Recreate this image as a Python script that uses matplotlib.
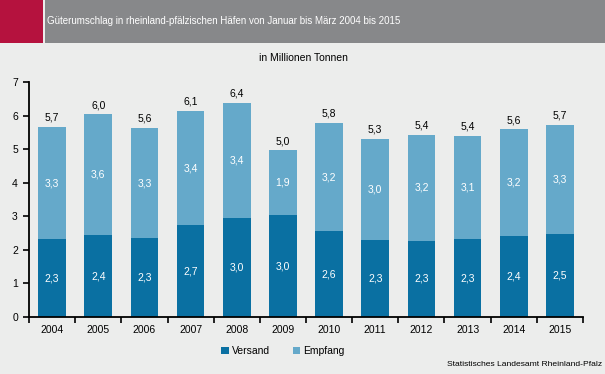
import matplotlib
matplotlib.use("Agg")
import matplotlib.pyplot as plt
from matplotlib.patches import Rectangle

plt.rcParams['font.family'] = ['Liberation Sans', 'DejaVu Sans']

years = ['2004', '2005', '2006', '2007', '2008', '2009', '2010', '2011', '2012', '2013', '2014', '2015']
versand = [2.32, 2.43, 2.34, 2.73, 2.96, 3.03, 2.56, 2.29, 2.27, 2.32, 2.41, 2.46]
empfang = [3.34, 3.61, 3.29, 3.41, 3.42, 1.94, 3.22, 3.02, 3.16, 3.08, 3.18, 3.27]

title = 'Güterumschlag in rheinland-pfälzischen Häfen von Januar bis März 2004 bis 2015'
subtitle = 'in Millionen Tonnen'
source = 'Statistisches Landesamt Rheinland-Pfalz'

c_v = '#0A70A2'
c_e = '#65A9CA'
bg = '#ECEDEC'

def fmt(v):
    return f'{v:.1f}'.replace('.', ',')

W, H = 605, 374
fig = plt.figure(figsize=(W / 100, H / 100), dpi=100, facecolor=bg)

# header
fig.patches.append(Rectangle((0, 1 - 42.5 / H), 43 / W, 42.5 / H, transform=fig.transFigure,
                             facecolor='#B5123E', edgecolor='none', zorder=0))
fig.patches.append(Rectangle((45 / W, 1 - 42.5 / H), 1 - 45 / W, 42.5 / H, transform=fig.transFigure,
                             facecolor='#87888A', edgecolor='none', zorder=0))
fig.text(47 / W, 1 - 21 / H, title, color='white', fontsize=7.0, va='center', ha='left')

ax = fig.add_axes([29 / W, 1 - 317 / H, (583 - 29) / W, (317 - 82) / H])
ax.set_facecolor(bg)
x = list(range(len(years)))
ax.bar(x, versand, width=0.6, color=c_v, label='Versand', zorder=2)
ax.bar(x, empfang, width=0.6, bottom=versand, color=c_e, label='Empfang', zorder=2)

for i in x:
    v, e = versand[i], empfang[i]
    ax.text(i, v / 2, fmt(v), ha='center', va='center', color='white', fontsize=7.5)
    ax.text(i, v + e / 2, fmt(e), ha='center', va='center', color='white', fontsize=7.5)
    ax.text(i, v + e + 0.12, fmt(v + e), ha='center', va='bottom', color='black', fontsize=7.5)

ax.set_xlim(-0.5, len(years) - 0.5)
ax.set_ylim(0, 7)
ax.set_yticks(range(8))
ax.set_yticklabels([str(i) for i in range(8)], fontsize=7.5)
ax.set_xticks(x)
ax.set_xticklabels(years, fontsize=7.5)
ax.set_xticks([i - 0.5 for i in range(len(years) + 1)], minor=True)
ax.tick_params(axis='x', which='major', length=0, pad=6)
ax.tick_params(axis='x', which='minor', length=4, width=1.2, direction='out')
ax.tick_params(axis='y', length=4, width=1.2, direction='out', pad=4)
for s in ['top', 'right']:
    ax.spines[s].set_visible(False)
for s in ['left', 'bottom']:
    ax.spines[s].set_linewidth(1.3)

fig.text(303 / W, 1 - 58 / H, subtitle, ha='center', va='center', fontsize=7.5)

leg = fig.legend(loc='center', bbox_to_anchor=(283 / W, 1 - 351 / H), ncol=2, frameon=False,
                 fontsize=7.5, handlelength=0.7, handleheight=0.7, handletextpad=0.3, columnspacing=2.2)

fig.text(602 / W, 1 - 365 / H, source, ha='right', va='center', fontsize=6.1)

fig.savefig('out.png', dpi=100, facecolor=bg)
